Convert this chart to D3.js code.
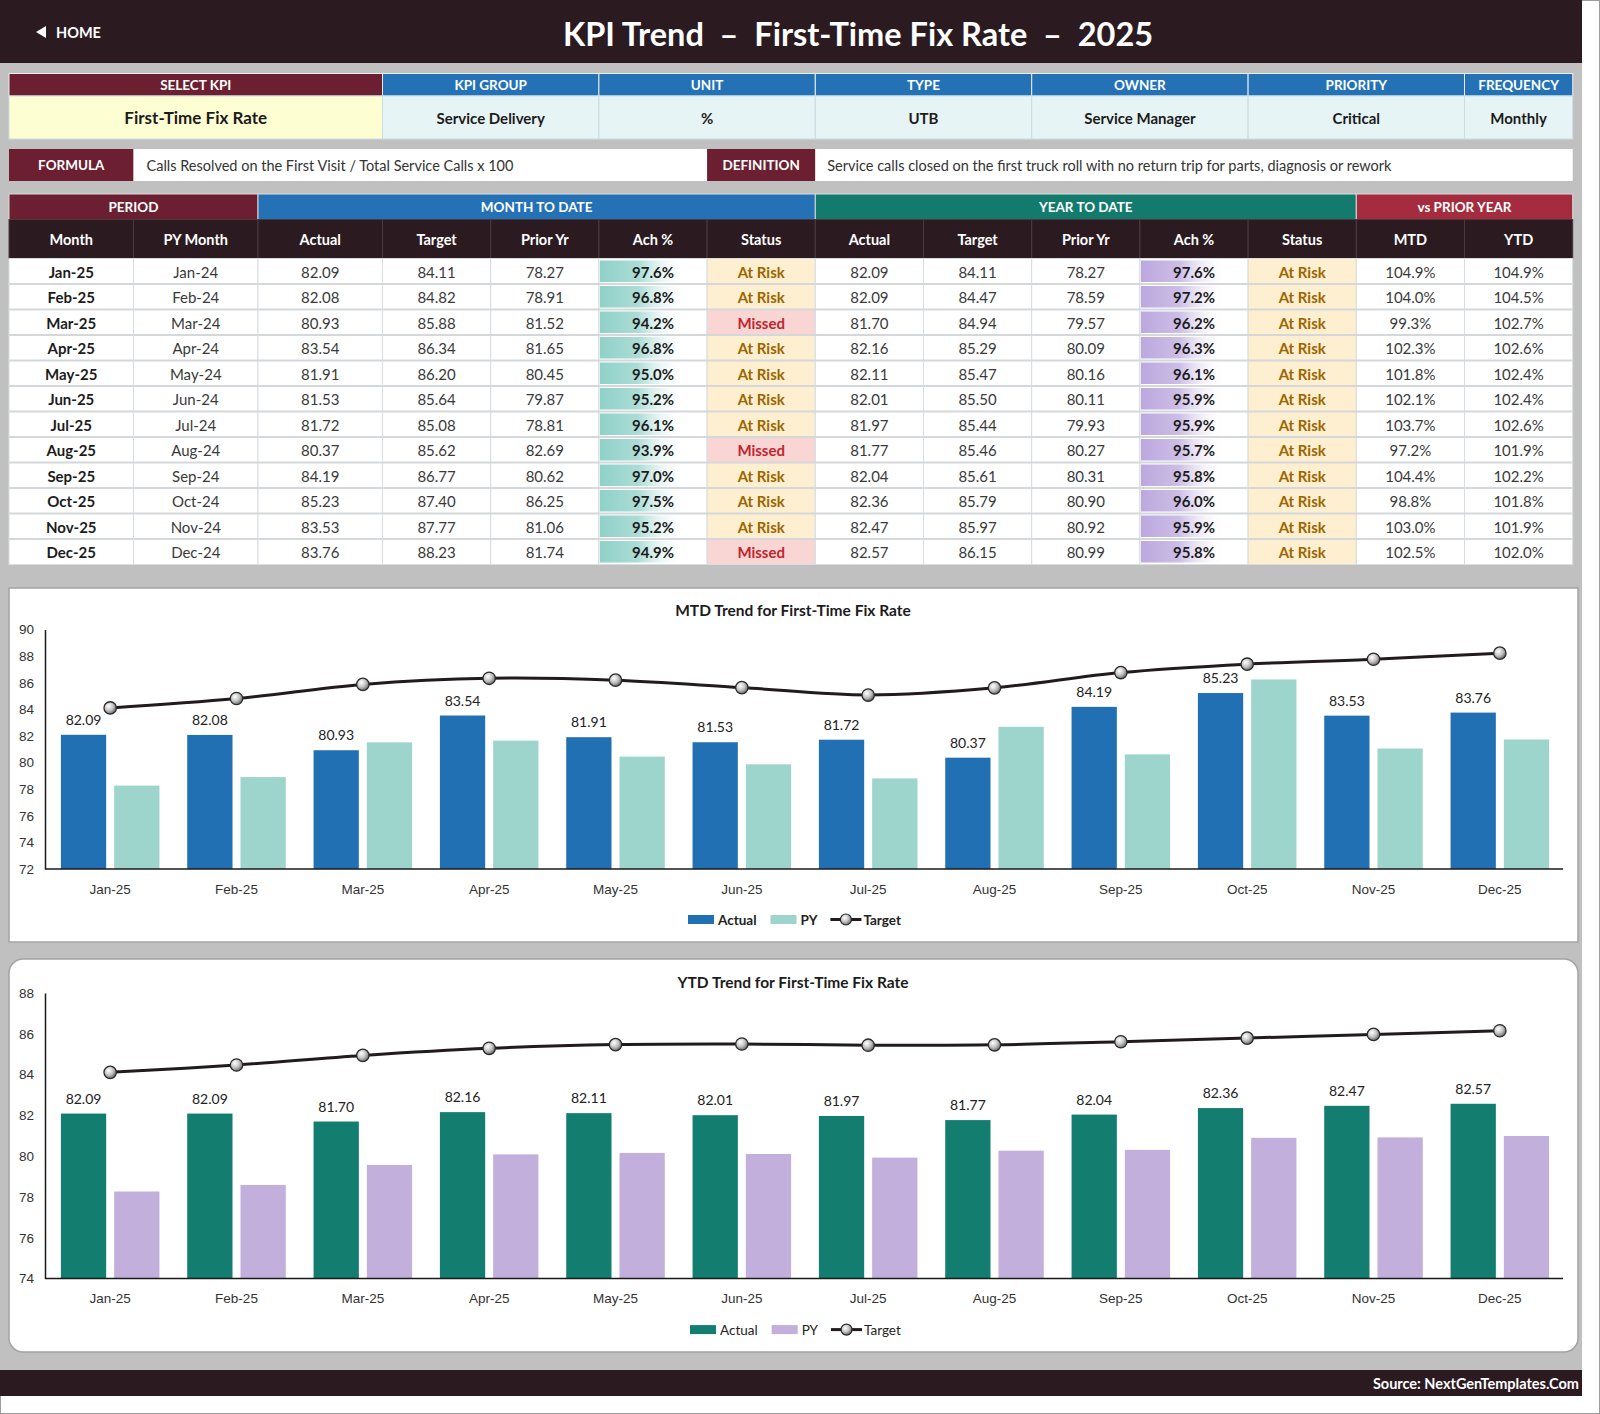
<!DOCTYPE html>
<html>
<head>
<meta charset="utf-8">
<script src="https://cdn.jsdelivr.net/npm/d3@7"></script>
<style>
  body { margin: 0; background: #fff; }
  svg { display: block; }
  text { font-family: Lato, "Open Sans", sans-serif; }
  .ax text { font-family: "Liberation Sans", Arial, sans-serif; font-size: 13.5px; fill: #333; }
  .ax path { stroke: #1a1a1a; stroke-width: 1.5; }
</style>
</head>
<body>
<svg id="dash" width="1600" height="1414"></svg>
<script>
// ---- data ----
var months     = ["Jan-25","Feb-25","Mar-25","Apr-25","May-25","Jun-25","Jul-25","Aug-25","Sep-25","Oct-25","Nov-25","Dec-25"];
var pyMonths   = ["Jan-24","Feb-24","Mar-24","Apr-24","May-24","Jun-24","Jul-24","Aug-24","Sep-24","Oct-24","Nov-24","Dec-24"];
var mtdActual  = [82.09, 82.08, 80.93, 83.54, 81.91, 81.53, 81.72, 80.37, 84.19, 85.23, 83.53, 83.76];
var mtdTarget  = [84.11, 84.82, 85.88, 86.34, 86.20, 85.64, 85.08, 85.62, 86.77, 87.40, 87.77, 88.23];
var mtdPrior   = [78.27, 78.91, 81.52, 81.65, 80.45, 79.87, 78.81, 82.69, 80.62, 86.25, 81.06, 81.74];
var mtdAch     = [97.6, 96.8, 94.2, 96.8, 95.0, 95.2, 96.1, 93.9, 97.0, 97.5, 95.2, 94.9];
var mtdStatus  = ["At Risk","At Risk","Missed","At Risk","At Risk","At Risk","At Risk","Missed","At Risk","At Risk","At Risk","Missed"];
var ytdActual  = [82.09, 82.09, 81.70, 82.16, 82.11, 82.01, 81.97, 81.77, 82.04, 82.36, 82.47, 82.57];
var ytdTarget  = [84.11, 84.47, 84.94, 85.29, 85.47, 85.50, 85.44, 85.46, 85.61, 85.79, 85.97, 86.15];
var ytdPrior   = [78.27, 78.59, 79.57, 80.09, 80.16, 80.11, 79.93, 80.27, 80.31, 80.90, 80.92, 80.99];
var ytdAch     = [97.6, 97.2, 96.2, 96.3, 96.1, 95.9, 95.9, 95.7, 95.8, 96.0, 95.9, 95.8];
var ytdStatus  = ["At Risk","At Risk","At Risk","At Risk","At Risk","At Risk","At Risk","At Risk","At Risk","At Risk","At Risk","At Risk"];
var vsPyMtd    = [104.9, 104.0, 99.3, 102.3, 101.8, 102.1, 103.7, 97.2, 104.4, 98.8, 103.0, 102.5];
var vsPyYtd    = [104.9, 104.5, 102.7, 102.6, 102.4, 102.4, 102.6, 101.9, 102.2, 101.8, 101.9, 102.0];

var infoLabels = ["SELECT KPI","KPI GROUP","UNIT","TYPE","OWNER","PRIORITY","FREQUENCY"];
var infoValues = ["First-Time Fix Rate","Service Delivery","%","UTB","Service Manager","Critical","Monthly"];
var formulaText    = "Calls Resolved on the First Visit / Total Service Calls x 100";
var definitionText = "Service calls closed on the first truck roll with no return trip for parts, diagnosis or rework";
var groupLabels = ["PERIOD","MONTH TO DATE","YEAR TO DATE","vs PRIOR YEAR"];
var colLabels   = ["Month","PY Month","Actual","Target","Prior Yr","Ach %","Status","Actual","Target","Prior Yr","Ach %","Status","MTD","YTD"];
var mtdTicks = [72, 74, 76, 78, 80, 82, 84, 86, 88, 90];
var ytdTicks = [74, 76, 78, 80, 82, 84, 86, 88];

// ---- colours ----
var DARK = "#2b1b21", MAROON = "#6b1f31", BLUE = "#2472b5", TEAL = "#137b6e", RED = "#a52b3e";

var svg = d3.select("#dash");
var defs = svg.append("defs");

function txt(g, x, y, s, o) {
    o = o || {};
    return g.append("text")
        .attr("x", x).attr("y", y)
        .attr("text-anchor", o.anchor || "middle")
        .attr("dominant-baseline", "central")
        .attr("font-size", o.size || 14)
        .attr("font-weight", o.weight || 400)
        .attr("fill", o.color || "#222")
        .style("white-space", "pre")
        .text(s);
}

function box(g, x0, x1, y, h, fill, stroke) {
    return g.append("rect")
        .attr("x", x0).attr("y", y).attr("width", x1 - x0).attr("height", h)
        .attr("fill", fill).attr("stroke", stroke || "none").attr("stroke-width", 1);
}

// page frame
svg.append("rect").attr("x", 0.5).attr("y", 0.5).attr("width", 1599).attr("height", 1413)
    .attr("fill", "#fff").attr("stroke", "#9c9c9c");
svg.append("rect").attr("x", 0).attr("y", 63).attr("width", 1582).attr("height", 1307).attr("fill", "#c0c0c0");

// header band
svg.append("rect").attr("x", 0).attr("y", 0).attr("width", 1582).attr("height", 63).attr("fill", DARK);
svg.append("path").attr("d", "M36,32 L46,26 L46,38 Z").attr("fill", "#fff");
txt(svg, 56, 32, "HOME", {anchor: "start", size: 14.5, weight: 700, color: "#fff"});
txt(svg, 858, 33, "KPI Trend  \u2013  First-Time Fix Rate  \u2013  2025", {size: 32.5, weight: 700, color: "#fff"});

// footer
svg.append("rect").attr("x", 0).attr("y", 1370).attr("width", 1582).attr("height", 26).attr("fill", DARK);
txt(svg, 1579, 1383, "Source: NextGenTemplates.Com", {anchor: "end", size: 14.5, weight: 700, color: "#fff"});

// column grid shared by the tables
var colW = [124.5, 124.5, 124.5].concat(d3.range(11).map(function () { return 108.2; }));
var colX = [9];
colW.forEach(function (w) { colX.push(colX[colX.length - 1] + w); });

// ---- KPI info block ----
var info = svg.append("g");
var infoSpan = [[0, 3], [3, 5], [5, 7], [7, 9], [9, 11], [11, 13], [13, 14]];
infoLabels.forEach(function (lab, i) {
    var a = colX[infoSpan[i][0]], b = colX[infoSpan[i][1]];
    box(info, a, b, 73.5, 22.5, i === 0 ? MAROON : BLUE, "#e8eef2");
    txt(info, (a + b) / 2, 85, lab, {size: 13.5, weight: 700, color: "#fff"});
    box(info, a, b, 96, 43, i === 0 ? "#fefed3" : "#e7f4f5", "#c9dde2");
    txt(info, (a + b) / 2, 117.5, infoValues[i], {size: i === 0 ? 17 : 15, weight: 700, color: "#1c1c1c"});
});

// formula / definition row
box(info, colX[0], colX[1], 149, 32, MAROON);
txt(info, (colX[0] + colX[1]) / 2, 165, "FORMULA", {size: 13.5, weight: 700, color: "#fff"});
box(info, colX[1], colX[6], 149, 32, "#fff");
txt(info, colX[1] + 13, 165, formulaText, {anchor: "start", size: 14.5, color: "#333"});
box(info, colX[6], colX[7], 149, 32, MAROON);
txt(info, (colX[6] + colX[7]) / 2, 165, "DEFINITION", {size: 13.5, weight: 700, color: "#fff"});
box(info, colX[7], colX[14], 149, 32, "#fff");
txt(info, colX[7] + 12, 165, definitionText, {anchor: "start", size: 14.5, color: "#333"});

// ---- monthly table ----
var tbl = svg.append("g");
var groupSpan = [[0, 2, MAROON], [2, 7, BLUE], [7, 12, TEAL], [12, 14, RED]];
groupLabels.forEach(function (lab, i) {
    var a = colX[groupSpan[i][0]], b = colX[groupSpan[i][1]];
    box(tbl, a, b, 194, 25.5, groupSpan[i][2], "#d9d9d9");
    txt(tbl, (a + b) / 2, 207, lab, {size: 13.5, weight: 700, color: "#fff"});
});
colLabels.forEach(function (lab, i) {
    box(tbl, colX[i], colX[i + 1], 219.5, 39, DARK, "#4a3a40");
    txt(tbl, (colX[i] + colX[i + 1]) / 2, 239, lab, {size: 14.5, weight: 700, color: "#fff"});
});

// data bar gradients for the Ach % columns
function fade(id, c) {
    var lg = defs.append("linearGradient").attr("id", id).attr("x1", 0).attr("x2", 1).attr("y1", 0).attr("y2", 0);
    lg.append("stop").attr("offset", "0%").attr("stop-color", c);
    lg.append("stop").attr("offset", "45%").attr("stop-color", c).attr("stop-opacity", 0.75);
    lg.append("stop").attr("offset", "100%").attr("stop-color", "#fff").attr("stop-opacity", 0);
}
fade("barMtd", "#8fd1c8");
fade("barYtd", "#bba8de");

var rowH = 25.5, rowY0 = 258.5;
var achW = d3.scaleLinear().domain([0, d3.max(mtdAch.concat(ytdAch))]).range([0, 108.2 * 0.8]);
var statusStyle = {
    "At Risk": {bg: "#fdefcf", fg: "#9c6500"},
    "Missed":  {bg: "#f9d5d4", fg: "#c0262d"}
};
var pct = function (v) { return v.toFixed(1) + "%"; };

months.forEach(function (m, i) {
    var y = rowY0 + i * rowH;
    var cells = [
        {t: m, weight: 700, color: "#1c1c1c"},
        {t: pyMonths[i]},
        {t: mtdActual[i].toFixed(2)},
        {t: mtdTarget[i].toFixed(2)},
        {t: mtdPrior[i].toFixed(2)},
        {t: pct(mtdAch[i]), weight: 700, color: "#1c1c1c", bar: mtdAch[i], grad: "barMtd"},
        {t: mtdStatus[i], status: mtdStatus[i]},
        {t: ytdActual[i].toFixed(2)},
        {t: ytdTarget[i].toFixed(2)},
        {t: ytdPrior[i].toFixed(2)},
        {t: pct(ytdAch[i]), weight: 700, color: "#1c1c1c", bar: ytdAch[i], grad: "barYtd"},
        {t: ytdStatus[i], status: ytdStatus[i]},
        {t: pct(vsPyMtd[i])},
        {t: pct(vsPyYtd[i])}
    ];
    cells.forEach(function (c, j) {
        var a = colX[j], b = colX[j + 1];
        var st = c.status ? statusStyle[c.status] : null;
        box(tbl, a, b, y, rowH, st ? st.bg : "#fff", "#d8dde0");
        if (c.bar) {
            tbl.append("rect")
                .attr("x", a + 1).attr("y", y + 2)
                .attr("width", achW(c.bar)).attr("height", rowH - 4)
                .attr("fill", "url(#" + c.grad + ")");
        }
        txt(tbl, (a + b) / 2, y + rowH / 2 + 0.5, c.t, {
            size: 15,
            weight: st ? 700 : (c.weight || 400),
            color: st ? st.fg : (c.color || "#3a3a3a")
        });
    });
});
// heavier row separators
months.forEach(function (m, i) {
    if (i === 0) return;
    tbl.append("line")
        .attr("x1", colX[0]).attr("x2", colX[14])
        .attr("y1", rowY0 + i * rowH).attr("y2", rowY0 + i * rowH)
        .attr("stroke", "#d4d8db").attr("stroke-width", 2);
});

// ---- trend charts ----
var sphere = defs.append("radialGradient").attr("id", "sphere").attr("cx", "38%").attr("cy", "35%").attr("r", "65%");
sphere.append("stop").attr("offset", "0%").attr("stop-color", "#ffffff");
sphere.append("stop").attr("offset", "55%").attr("stop-color", "#c4c4c4");
sphere.append("stop").attr("offset", "100%").attr("stop-color", "#6e6e6e");

function trendChart(o) {
    var g = svg.append("g");
    g.append("rect")
        .attr("x", 9).attr("y", o.boxY).attr("width", 1569).attr("height", o.boxH)
        .attr("rx", o.rx).attr("fill", "#fff").attr("stroke", "#a3a3a3").attr("stroke-width", 1.5);
    txt(g, 793, o.titleY, o.title, {size: 15.5, weight: 700, color: "#1c1c1c"});

    var x = d3.scaleBand().domain(months).range([47, 1563]).paddingInner(0.22).paddingOuter(0.11);
    var xs = d3.scaleBand().domain(["actual", "py"]).range([0, x.bandwidth()]).paddingInner(0.15);
    var y = d3.scaleLinear().domain(o.domain).range(o.range);
    var base = y(o.domain[0]);

    // bars
    g.selectAll(".pb").data(o.prior).enter().append("rect")
        .attr("x", function (d, i) { return x(months[i]) + xs("py"); })
        .attr("y", function (d) { return y(d); })
        .attr("width", xs.bandwidth())
        .attr("height", function (d) { return base - y(d); })
        .attr("fill", o.colP);
    g.selectAll(".ab").data(o.actual).enter().append("rect")
        .attr("x", function (d, i) { return x(months[i]) + xs("actual"); })
        .attr("y", function (d) { return y(d); })
        .attr("width", xs.bandwidth())
        .attr("height", function (d) { return base - y(d); })
        .attr("fill", o.colA);
    g.selectAll(".lab").data(o.actual).enter().append("text")
        .attr("x", function (d, i) { return x(months[i]) + xs("actual") + xs.bandwidth() / 2; })
        .attr("y", function (d) { return y(d) - 10; })
        .attr("text-anchor", "middle")
        .attr("font-family", "'Liberation Sans', Arial, sans-serif")
        .attr("font-size", 14).attr("fill", "#222")
        .text(function (d) { return d.toFixed(2); });

    // axes
    g.append("g").attr("class", "ax").attr("transform", "translate(45,0)")
        .call(d3.axisLeft(y).tickValues(o.ticks).tickSize(0).tickPadding(11).tickFormat(d3.format("d")));
    var xa = g.append("g").attr("class", "ax").attr("transform", "translate(0," + base + ")")
        .call(d3.axisBottom(x).tickSize(0).tickPadding(15));
    xa.select(".domain").remove();
    g.append("line")
        .attr("x1", x.range()[0] - 2).attr("x2", x.range()[1])
        .attr("y1", base).attr("y2", base)
        .attr("stroke", "#1a1a1a").attr("stroke-width", 1.5);

    // target line
    var line = d3.line()
        .x(function (d, i) { return x(months[i]) + x.bandwidth() / 2; })
        .y(function (d) { return y(d); })
        .curve(d3.curveCatmullRom);
    g.append("path").datum(o.target)
        .attr("d", line).attr("fill", "none")
        .attr("stroke", "#231a1e").attr("stroke-width", 3);
    g.selectAll(".mk").data(o.target).enter().append("circle")
        .attr("cx", function (d, i) { return x(months[i]) + x.bandwidth() / 2; })
        .attr("cy", function (d) { return y(d); })
        .attr("r", 6.2)
        .attr("fill", "url(#sphere)").attr("stroke", "#2a2a2a").attr("stroke-width", 1.3);

    // legend
    var lg = g.append("g");
    var lx = o.legendX, ly = o.legendY, fw = o.legendBold ? 700 : 400;
    lg.append("rect").attr("x", lx).attr("y", ly - 4.5).attr("width", 26).attr("height", 9).attr("fill", o.colA);
    var t1 = txt(lg, lx + 30, ly, "Actual", {anchor: "start", size: 13.5, weight: fw, color: "#222"});
    lx += 30 + t1.node().getComputedTextLength() + 14;
    lg.append("rect").attr("x", lx).attr("y", ly - 4.5).attr("width", 26).attr("height", 9).attr("fill", o.colP);
    var t2 = txt(lg, lx + 30, ly, "PY", {anchor: "start", size: 13.5, weight: fw, color: "#222"});
    lx += 30 + t2.node().getComputedTextLength() + 13;
    lg.append("line").attr("x1", lx).attr("x2", lx + 31).attr("y1", ly).attr("y2", ly)
        .attr("stroke", "#231a1e").attr("stroke-width", 3);
    lg.append("circle").attr("cx", lx + 15.5).attr("cy", ly).attr("r", 5.5)
        .attr("fill", "url(#sphere)").attr("stroke", "#2a2a2a").attr("stroke-width", 1.2);
    txt(lg, lx + 33, ly, "Target", {anchor: "start", size: 13.5, weight: fw, color: "#222"});
}

trendChart({
    boxY: 588, boxH: 354, rx: 0,
    title: "MTD Trend for First-Time Fix Rate", titleY: 610,
    domain: [72, 90], range: [869, 629.6], ticks: mtdTicks,
    actual: mtdActual, prior: mtdPrior, target: mtdTarget,
    colA: "#2270b4", colP: "#9dd4cc",
    legendX: 688, legendY: 919.5, legendBold: true
});

trendChart({
    boxY: 959, boxH: 393, rx: 14,
    title: "YTD Trend for First-Time Fix Rate", titleY: 981.6,
    domain: [74, 88], range: [1278.6, 993], ticks: ytdTicks,
    actual: ytdActual, prior: ytdPrior, target: ytdTarget,
    colA: "#137d70", colP: "#c2afdc",
    legendX: 690, legendY: 1329.6, legendBold: false
});
</script>
</body>
</html>
